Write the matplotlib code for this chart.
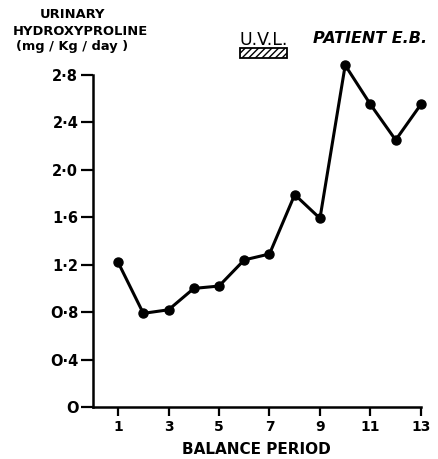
import matplotlib
matplotlib.use("Agg")
import matplotlib.pyplot as plt
from matplotlib.patches import Rectangle

# balance periods and urinary hydroxyproline (mg/Kg/day)
period = [1, 2, 3, 4, 5, 6, 7, 8, 9, 10, 11, 12, 13]
hyp = [1.22, 0.79, 0.82, 1.00, 1.02, 1.24, 1.29, 1.79, 1.59, 2.88, 2.55, 2.25, 2.55]

x_ticks = [1, 3, 5, 7, 9, 11, 13]
y_ticks = [0, 0.4, 0.8, 1.2, 1.6, 2.0, 2.4, 2.8]
y_labels = ["O", "O·4", "O·8", "1·2", "1·6", "2·0", "2·4", "2·8"]

plt.rcParams["font.family"] = "DejaVu Sans"

fig = plt.figure(figsize=(4.38, 4.59), dpi=100)
ax = fig.add_axes([0.212, 0.113, 0.772, 0.763])

ax.plot(period, hyp, color="black", lw=2.2, marker="o", ms=6.5, zorder=3)

ax.set_xlim(0, 13.4)
ax.set_ylim(0, 2.95)
ax.spines["top"].set_visible(False)
ax.spines["right"].set_visible(False)
ax.spines["left"].set_bounds(0, 2.8)
ax.spines["bottom"].set_bounds(0, 13)
for s in ("left", "bottom"):
    ax.spines[s].set_linewidth(1.8)

ax.set_xticks(x_ticks)
ax.set_xticklabels([str(v) for v in x_ticks], fontweight="bold", fontsize=10)
ax.set_yticks(y_ticks)
ax.set_yticklabels(y_labels, fontweight="bold", fontsize=10.5)
ax.tick_params(axis="x", direction="out", length=6.5, width=1.6, pad=3)
ax.tick_params(axis="y", direction="out", length=8.5, width=1.6, pad=2)

ax.set_xlabel("BALANCE PERIOD", fontweight="bold", fontsize=11)
ax.xaxis.set_label_coords(0.485, -0.1)

fig.text(0.165, 0.961, "URINARY", ha="center", va="baseline", fontweight="bold", fontsize=9.4)
fig.text(0.183, 0.924, "HYDROXYPROLINE", ha="center", va="baseline", fontweight="bold", fontsize=9.4)
fig.text(0.165, 0.891, "(mg / Kg / day )", ha="center", va="baseline", fontweight="bold", fontsize=9.4)

fig.text(0.603, 0.902, "U.V.L.", ha="center", va="baseline", fontsize=12.5)
fig.text(0.845, 0.906, "PATIENT E.B.", ha="center", va="baseline", fontsize=11.5,
         fontweight="bold", fontstyle="italic")
fig.patches.append(Rectangle((0.549, 0.874), 0.107, 0.022, transform=fig.transFigure,
                             facecolor="white", edgecolor="black", lw=1.3, hatch="/////"))

fig.savefig("out.png", dpi=100)
